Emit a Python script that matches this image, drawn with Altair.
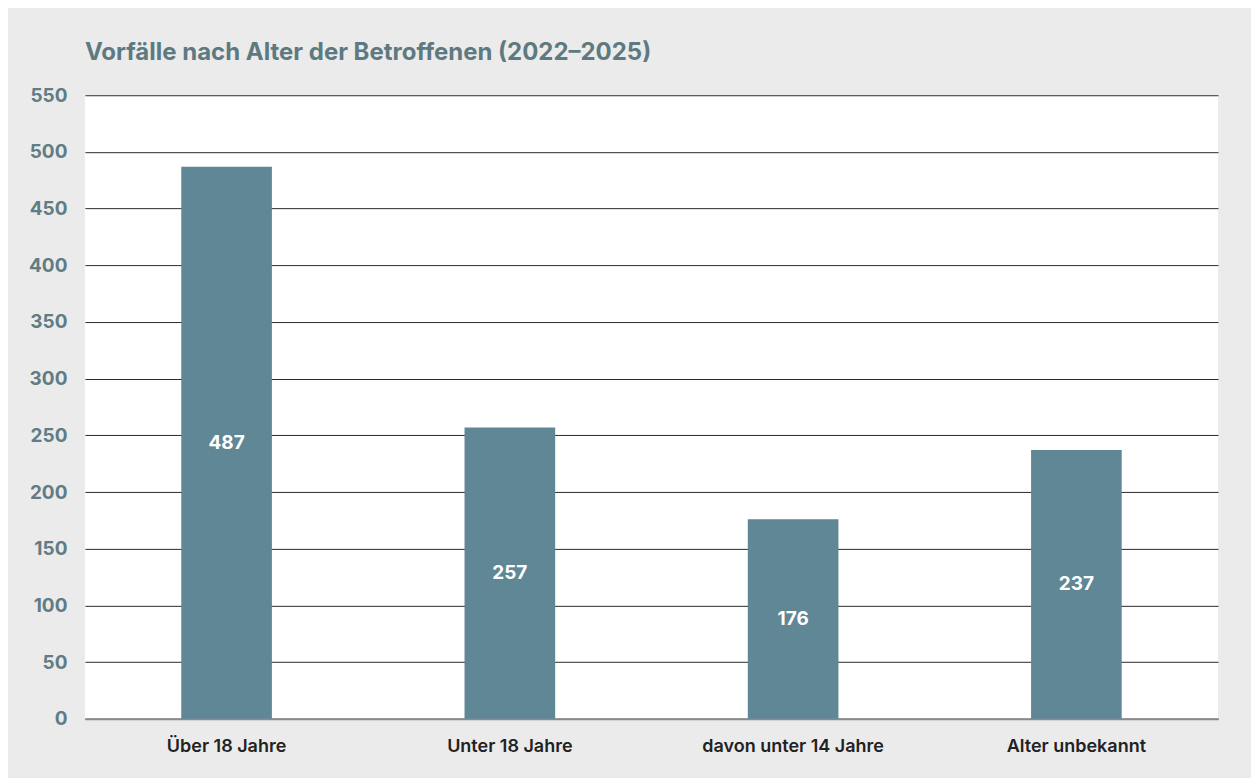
import altair as alt
import pandas as pd

categories = ["Über 18 Jahre", "Unter 18 Jahre", "davon unter 14 Jahre", "Alter unbekannt"]
values = [487, 257, 176, 237]
y_ticks = [0, 50, 100, 150, 200, 250, 300, 350, 400, 450, 500, 550]

df = pd.DataFrame({"Kategorie": categories, "Wert": values})

x = alt.X("Kategorie:N", sort=categories,
          scale=alt.Scale(paddingInner=0.68, paddingOuter=0.34),
          axis=alt.Axis(title=None, labelAngle=0, labelFont="Inter", labelFontSize=18,
                        labelFontWeight=600, labelColor="#222222", labelPadding=19,
                        labelLimit=400,
                        ticks=False, domain=True, domainColor="#8a8a8a", domainWidth=2))

bars = alt.Chart(df).mark_bar(color="#5f8796").encode(
    x=x,
    y=alt.Y("Wert:Q", scale=alt.Scale(domain=[0, 550], nice=False),
            axis=alt.Axis(title=None, values=y_ticks, labelFont="Inter", labelFontSize=19,
                          labelFontWeight="bold", labelColor="#617c83", labelPadding=18,
                          ticks=False, domain=False, grid=True, gridColor="#2a2a2a",
                          gridWidth=1)),
)

labels = alt.Chart(df).transform_calculate(mid="datum.Wert / 2").mark_text(
    color="white", font="Inter", fontSize=19, fontWeight="bold", baseline="middle"
).encode(
    x=alt.X("Kategorie:N", sort=categories),
    y=alt.Y("mid:Q"),
    text=alt.Text("Wert:Q"),
)

chart = alt.layer(bars, labels).properties(
    width=1134, height=624,
    background="#ebebeb",
    padding={"left": 20, "top": 33, "right": 33, "bottom": 28},
    title=alt.TitleParams("Vorfälle nach Alter der Betroffenen (2022–2025)", anchor="start",
                          frame="group", font="Inter", fontSize=24, fontWeight="bold",
                          color="#5e7980", offset=21),
).configure_view(fill="white", stroke=None)

chart.save("out.html", embed_options={"renderer": "svg", "actions": False})
